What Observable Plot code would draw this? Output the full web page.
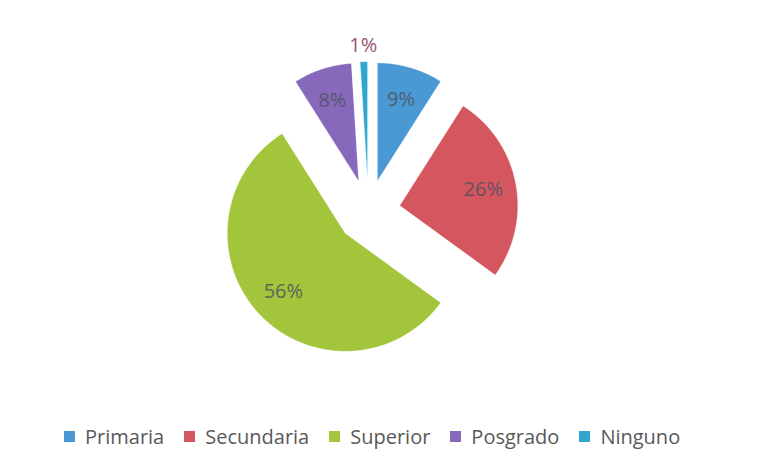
<!DOCTYPE html>
<html>
<head>
<meta charset="utf-8">
<script src="https://cdn.jsdelivr.net/npm/d3@7"></script>
<script src="https://cdn.jsdelivr.net/npm/@observablehq/plot@0.6"></script>
<style>
  html, body { margin: 0; padding: 0; background: #ffffff; }
  #chart { width: 768px; height: 465px; overflow: hidden; background: #ffffff; }
</style>
</head>
<body>
<div id="chart"></div>
<script>
// ---- data ----
const categories = ["Primaria", "Secundaria", "Superior", "Posgrado", "Ninguno"];
const values = [9, 26, 56, 8, 1];
const labels = ["9%", "26%", "56%", "8%", "1%"];
const colors = ["#4a98d4", "#d4565f", "#a2c53c", "#8669bb", "#2fa6cc"];

// ---- geometry (unit-radius pie, exploded slices) ----
const explode = 0.27;
const arcs = d3.pie().sort(null).startAngle(0).endAngle(2 * Math.PI)(values);

const polyPoints = [];
const labelPoints = [];
arcs.forEach((a, i) => {
  const mid = (a.startAngle + a.endAngle) / 2;
  const ox = explode * Math.sin(mid), oy = explode * Math.cos(mid);
  polyPoints.push({name: categories[i], x: ox, y: oy});
  const n = Math.max(2, Math.ceil((a.endAngle - a.startAngle) / (Math.PI / 360)));
  for (let k = 0; k <= n; ++k) {
    const t = a.startAngle + (a.endAngle - a.startAngle) * k / n;
    polyPoints.push({name: categories[i], x: ox + Math.sin(t), y: oy + Math.cos(t)});
  }
  const inside = values[i] >= 5;
  const lr = inside ? 0.72 : 1.14;
  labelPoints.push({
    name: categories[i], text: labels[i], inside,
    x: ox + lr * Math.sin(mid), y: oy + lr * Math.cos(mid)
  });
});

const chart = Plot.plot({
  width: 768,
  height: 420,
  margin: 0,
  style: {background: "#ffffff", fontFamily: "Open Sans"},
  x: {domain: [-1, 1], range: [250, 486], axis: null},
  y: {domain: [-1, 1], range: [329, 93], axis: null},
  color: {type: "ordinal", domain: categories, range: colors},
  marks: [
    Plot.line(polyPoints, {
      x: "x", y: "y", z: "name", fill: "name",
      stroke: "#ffffff", strokeOpacity: 0.35, strokeWidth: 1,
      curve: "linear-closed"
    }),
    Plot.text(labelPoints.filter(d => d.inside), {
      x: "x", y: "y", text: "text",
      fill: "#4e5060", fillOpacity: 0.85, fontSize: 20, fontFamily: "Open Sans"
    }),
    Plot.text(labelPoints.filter(d => !d.inside), {
      x: "x", y: "y", text: "text",
      fill: "#9c5275", fontSize: 20, fontFamily: "Open Sans"
    })
  ]
});

const legend = Plot.legend({
  color: {type: "ordinal", domain: categories, range: colors},
  legend: "swatches",
  swatchSize: 11,
  marginLeft: 64
});
legend.style.fontFamily = "Open Sans";
legend.style.fontSize = "20px";
legend.style.color = "#595959";
legend.style.marginTop = "0px";

const root = document.getElementById("chart");
root.appendChild(chart);
root.appendChild(legend);
</script>
</body>
</html>
